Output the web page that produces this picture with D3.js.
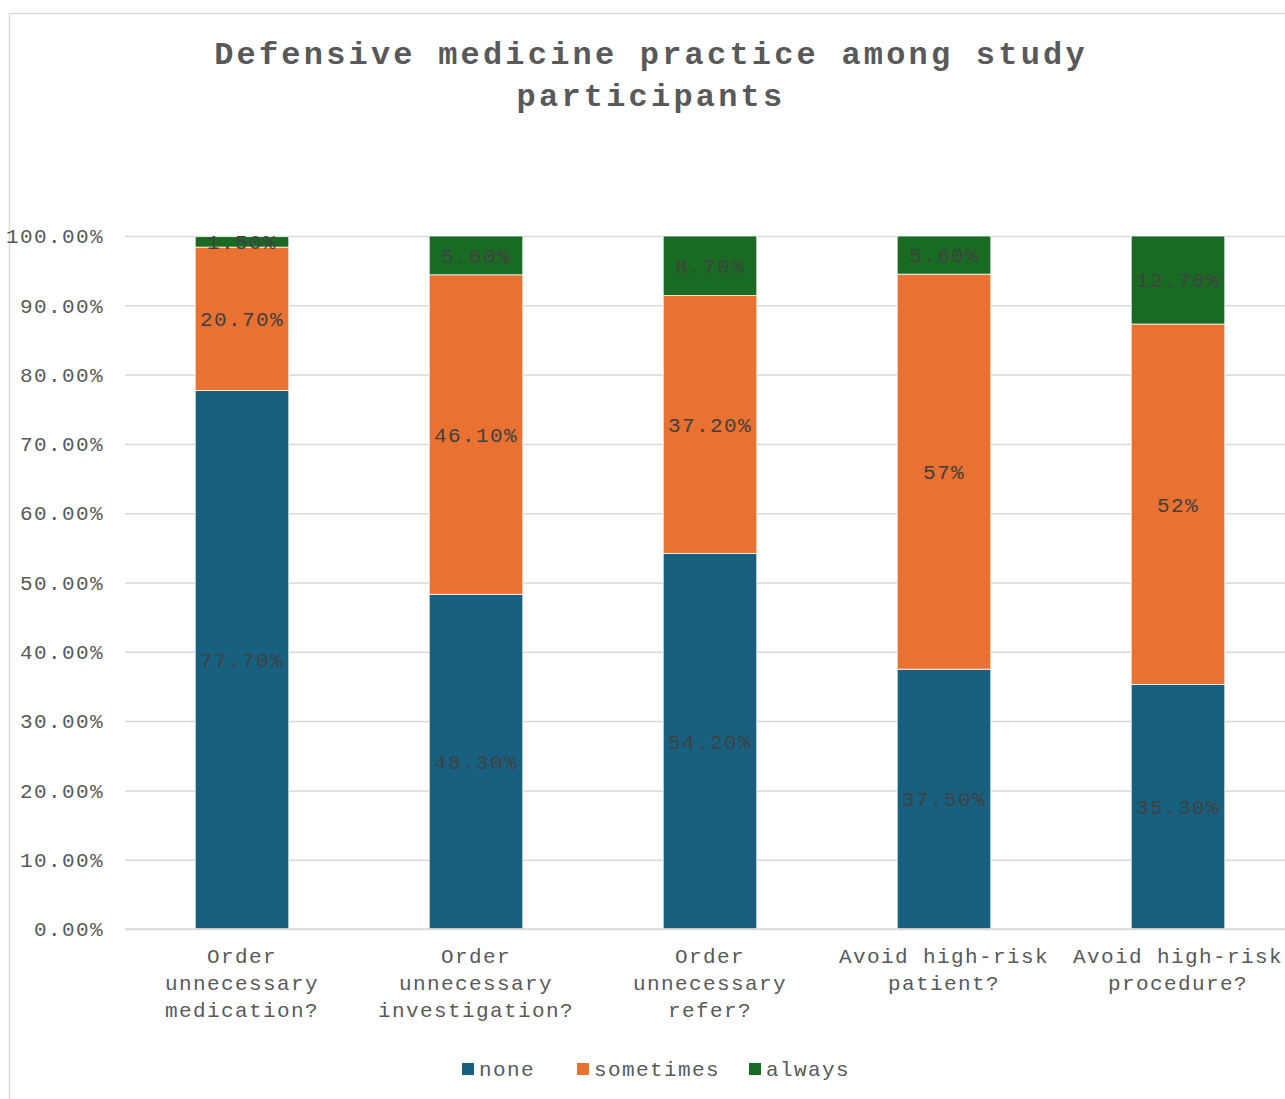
<!doctype html>
<html>
    <head>
        <meta charset="utf-8">
        <title>Defensive medicine practice</title>
        <script src="https://d3js.org/d3.v7.min.js"></script>
        <style type="text/css">
            body { margin:0; background:#fff; }
            text { font-family:"Liberation Mono", "Courier New", monospace; }
        </style>
    </head>
    <body>
        <svg></svg>
        <script type="text/javascript">

            var w = 1285,
                h = 1099;

            var categories = [
                'Order unnecessary medication?',
                'Order unnecessary investigation?',
                'Order unnecessary refer?',
                'Avoid high-risk patient?',
                'Avoid high-risk procedure?'
            ];
            var seriesNames = ['none', 'sometimes', 'always'];
            var none      = [77.7, 48.3, 54.2, 37.5, 35.3];
            var sometimes = [20.7, 46.1, 37.2, 57.0, 52.0];
            var always    = [1.5, 5.6, 8.7, 5.6, 12.7];
            var labels = {
                none:      ['77.70%', '48.30%', '54.20%', '37.50%', '35.30%'],
                sometimes: ['20.70%', '46.10%', '37.20%', '57%', '52%'],
                always:    ['1.50%', '5.60%', '8.70%', '5.60%', '12.70%']
            };
            var yTicks = [0, 10, 20, 30, 40, 50, 60, 70, 80, 90, 100];

            var colors = { none: '#17607f', sometimes: '#e97132', always: '#196b24' };

            var dataset = categories.map(function(c, i) {
                return { cat: c, none: none[i], sometimes: sometimes[i], always: always[i] };
            });

            var plotLeft = 125, plotTop = 236, plotBottom = 929;

            var xScale = d3.scaleBand()
                .domain(categories)
                .range([plotLeft, plotLeft + 234 * categories.length])
                .paddingInner(0.6)
                .paddingOuter(0.3);

            var yScale = d3.scaleLinear()
                .domain([0, 100])
                .range([plotBottom, plotTop])
                .clamp(true);

            var series = d3.stack().keys(seriesNames)(dataset);

            var svg = d3.select('svg')
                .attr('width', w)
                .attr('height', h);

            // chart frame
            svg.append('rect')
                .attr('x', 9.5).attr('y', 13.5)
                .attr('width', 1300).attr('height', 1100)
                .attr('fill', '#fff')
                .attr('stroke', '#d9d9d9')
                .attr('stroke-width', 1.5);

            // title
            svg.append('text')
                .attr('x', 651)
                .attr('text-anchor', 'middle')
                .attr('fill', '#595959')
                .style('font-size', '32px')
                .style('font-weight', 'bold')
                .style('letter-spacing', '3.2px')
                .selectAll('tspan')
                .data(['Defensive medicine practice among study', 'participants'])
                .enter()
                .append('tspan')
                .attr('x', 651)
                .attr('y', function(d, i) { return 64 + i * 42; })
                .text(function(d) { return d; });

            // gridlines + y labels
            var yAxis = d3.axisLeft(yScale)
                .tickValues(yTicks)
                .tickSize(-(w - plotLeft + 20))
                .tickPadding(21)
                .tickFormat(function(d) { return d.toFixed(2) + '%'; });

            var gy = svg.append('g')
                .attr('transform', 'translate(' + plotLeft + ',0)')
                .call(yAxis);
            gy.select('.domain').remove();
            gy.selectAll('.tick line')
                .attr('stroke', '#d9d9d9')
                .attr('stroke-width', 1.5);
            gy.selectAll('.tick text')
                .attr('fill', '#595959')
                .style('font-size', '21px')
                .style('letter-spacing', '1.4px');

            // bars
            var groups = svg.selectAll('g.series')
                .data(series)
                .enter()
                .append('g')
                .attr('class', 'series')
                .attr('fill', function(d) { return colors[d.key]; });

            groups.selectAll('rect')
                .data(function(d) { return d; })
                .enter()
                .append('rect')
                .attr('x', function(d) { return xScale(d.data.cat); })
                .attr('y', function(d) { return yScale(d[1]); })
                .attr('height', function(d) { return yScale(d[0]) - yScale(d[1]); })
                .attr('width', xScale.bandwidth())
                .attr('stroke', '#fff')
                .attr('stroke-width', 0.75);

            // data labels
            groups.each(function(s) {
                d3.select(this).selectAll('text')
                    .data(s)
                    .enter()
                    .append('text')
                    .attr('x', function(d) { return xScale(d.data.cat) + xScale.bandwidth() / 2; })
                    .attr('y', function(d) { return (yScale(d[0]) + yScale(d[1])) / 2; })
                    .attr('dy', '0.35em')
                    .attr('text-anchor', 'middle')
                    .attr('fill', '#404040')
                    .style('font-size', '21px')
                    .style('letter-spacing', '1.4px')
                    .text(function(d, i) { return labels[s.key][i]; });
            });

            // x axis line
            svg.append('line')
                .attr('x1', plotLeft).attr('x2', w)
                .attr('y1', plotBottom).attr('y2', plotBottom)
                .attr('stroke', '#d9d9d9')
                .attr('stroke-width', 1.5);

            // category labels, wrapped
            function wrap(str, maxChars) {
                var words = str.split(' '), lines = [], cur = '';
                words.forEach(function(wd) {
                    var t = cur ? cur + ' ' + wd : wd;
                    if (t.length > maxChars && cur) { lines.push(cur); cur = wd; }
                    else { cur = t; }
                });
                lines.push(cur);
                return lines;
            }

            svg.selectAll('text.cat')
                .data(categories)
                .enter()
                .append('text')
                .attr('class', 'cat')
                .attr('text-anchor', 'middle')
                .attr('fill', '#595959')
                .style('font-size', '21px')
                .style('letter-spacing', '1.4px')
                .each(function(c) {
                    var cx = xScale(c) + xScale.bandwidth() / 2;
                    d3.select(this).selectAll('tspan')
                        .data(wrap(c, 16))
                        .enter()
                        .append('tspan')
                        .attr('x', cx)
                        .attr('y', function(d, i) { return 963 + i * 27; })
                        .text(function(d) { return d; });
                });

            // legend
            var legendX = [462, 577, 749];
            var legend = svg.append('g');
            legend.selectAll('rect')
                .data(seriesNames)
                .enter()
                .append('rect')
                .attr('x', function(d, i) { return legendX[i]; })
                .attr('y', 1063)
                .attr('width', 12)
                .attr('height', 12)
                .attr('fill', function(d) { return colors[d]; });
            legend.selectAll('text')
                .data(seriesNames)
                .enter()
                .append('text')
                .attr('x', function(d, i) { return legendX[i] + 17; })
                .attr('y', 1069)
                .attr('dy', '0.35em')
                .attr('fill', '#595959')
                .style('font-size', '21px')
                .style('letter-spacing', '1.4px')
                .text(function(d) { return d; });
        </script>
    </body>
</html>
